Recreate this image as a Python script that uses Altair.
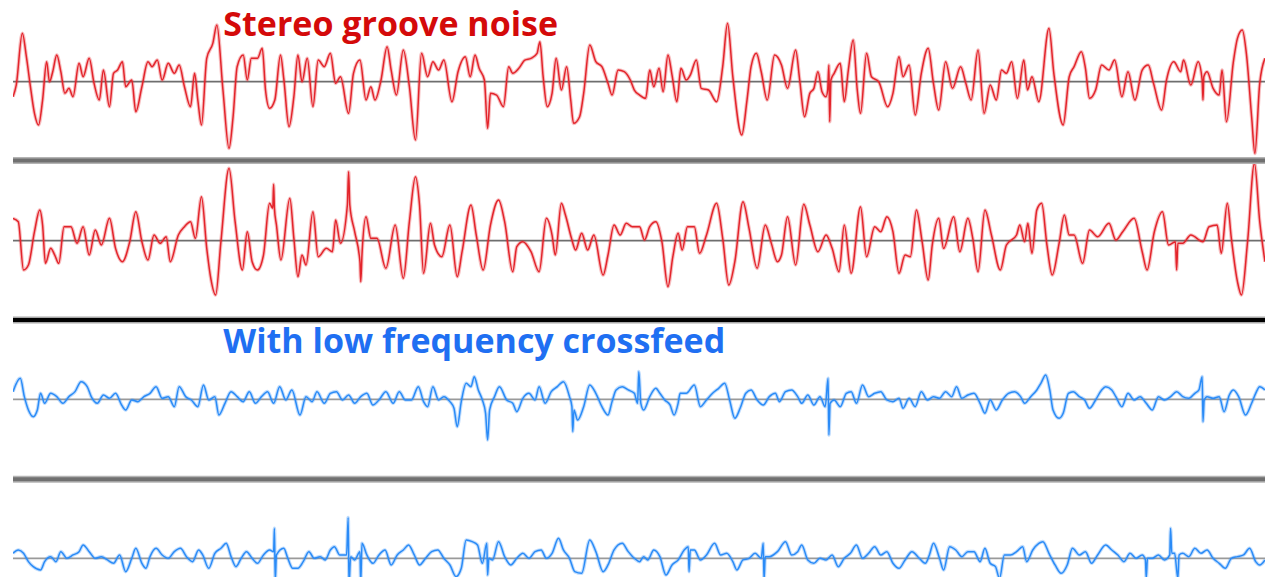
import altair as alt
import pandas as pd

# ---- waveform readings: (time index, amplitude) per track, first and second half ----
# time index: 0..1568 per half; amplitude: 1/3-pixel units above the zero line
TRACK1_A = [(22,-45),(30,-10),(45,145),(55,75),(65,-15),(75,-95),(85,-130),(95,-55),(105,60),(112,0),
            (120,30),(130,80),(140,30),(150,-35),(160,-20),(170,-45),(185,55),(195,15),(210,70),(222,-5),
            (235,-55),(245,35),(260,-75),(270,25),(280,35),(292,60),(300,-15),(315,5),(325,-90),(340,-15),
            (355,60),(365,45),(378,65),(390,5),(405,55),(420,25),(432,50),(445,-15),(460,-75),(470,25),
            (478,-55),(487,-130),(500,70),(515,115),(525,170),(540,-25),(555,-200),(565,-105),(575,45),(590,80),
            (600,5),(610,70),(625,70),(637,100),(645,-25),(655,-80),(668,-55),(682,80),(690,10),(703,-135),
            (715,-45),(725,80),(735,0),(748,70),(762,-75),(775,65),(790,45),(805,85),(818,-5),(830,15),
            (850,-95),(862,25),(878,65),(893,-55),(905,-15),(915,-55),(930,5),(945,105),(955,35),(968,-40),
            (985,95),(1000,-15),(1015,-175),(1030,85),(1045,15),(1058,60),(1072,35),(1085,65),(1105,-60),(1120,30),
            (1138,75),(1150,15),(1162,80),(1172,40),(1185,5),(1193,-140),(1200,-35),(1215,-40),(1232,-75),(1245,45),
            (1255,25),(1270,40),(1285,65),(1300,70),(1315,85),(1322,120),(1330,15),(1340,-75),(1352,-35),(1362,70),
            (1375,-25),(1388,45),(1398,-55),(1405,-125),(1420,-105),(1430,-35),(1445,110),(1460,60),(1475,45),(1490,-5),
            (1500,-40),(1515,35),(1530,30),(1545,5),(1555,-25)]
TRACK1_B = [(0,-40),(15,-50),(25,35),(35,-15),(48,40),(58,-30),(70,80),(80,20),(92,-60),(102,40),
            (115,5),(125,20),(140,65),(152,-20),(170,-25),(190,-60),(205,45),(217,175),(230,15),(252,-160),
            (265,-55),(275,45),(288,85),(300,30),(315,-55),(333,80),(350,50),(365,-20),(385,95),(395,5),
            (407,-105),(420,-35),(430,-20),(440,30),(450,-30),(460,-45),(464,-25),(467,50),(469,-120),(472,5),
            (480,25),(495,55),(505,-60),(515,35),(527,125),(537,-25),(545,-95),(560,85),(572,15),(590,0),
            (612,-75),(625,-35),(640,75),(650,15),(665,50),(680,-100),(695,25),(712,100),(725,-5),(738,-85),
            (755,60),(772,-20),(792,45),(805,-5),(818,-55),(835,95),(850,-95),(865,-10),(880,-55),(893,35),
            (905,25),(918,60),(932,-50),(948,65),(957,-25),(968,15),(985,-60),(1010,160),(1022,25),(1045,-130),
            (1060,15),(1072,45),(1090,90),(1100,40),(1110,-50),(1125,-25),(1140,50),(1158,35),(1172,65),(1190,-45),
            (1205,30),(1222,-55),(1240,35),(1255,50),(1268,-5),(1288,-85),(1300,5),(1318,60),(1335,30),(1342,65),
            (1360,-10),(1378,60),(1388,5),(1390,-55),(1392,15),(1400,30),(1415,-20),(1430,-40),(1437,35),(1448,-120),
            (1465,60),(1475,130),(1487,155),(1497,85),(1510,-105),(1518,-215),(1530,-5),(1543,70)]

TRACK2_A = [(22,67),(35,57),(48,-88),(60,-73),(75,27),(88,92),(95,47),(102,-68),(115,-23),(125,-43),
            (135,-68),(148,42),(165,42),(180,-8),(195,42),(210,-43),(225,32),(240,-13),(260,67),(275,-23),
            (292,-63),(310,-3),(325,87),(340,-3),(355,-58),(370,17),(385,-8),(400,12),(410,-63),(430,17),
            (445,42),(460,57),(472,7),(487,132),(500,-23),(510,-113),(522,-163),(535,-3),(555,217),(570,57),
            (588,-88),(600,27),(612,-63),(625,-88),(640,-43),(655,112),(663,97),(665,169),(667,97),(672,47),
            (683,-58),(705,127),(715,7),(725,-108),(735,-43),(745,-73),(762,87),(775,-48),(795,-23),(810,-33),
            (818,62),(830,-8),(847,107),(850,207),(853,107),(865,27),(878,-63),(880,-123),(883,-43),(893,72),
            (905,7),(920,7),(942,-83),(965,47),(985,-113),(1000,57),(1015,192),(1025,107),(1035,-98),(1052,52),
            (1062,-13),(1080,-48),(1100,47),(1118,-108),(1130,-33),(1152,107),(1165,17),(1182,-88),(1200,47),(1220,122),
            (1235,57),(1255,-93),(1265,-18),(1280,-3),(1300,-33),(1320,-93),(1338,67),(1352,17),(1360,-43),(1375,112),
            (1385,77),(1400,7),(1410,-28),(1425,22),(1440,-28),(1455,17),(1478,-103),(1490,-43),(1505,47),(1520,17),
            (1535,52),(1550,42)]
TRACK2_B = [(0,42),(12,2),(25,42),(40,57),(55,-3),(70,-138),(82,-48),(95,22),(105,-28),(118,42),
            (135,42),(148,-38),(165,17),(190,112),(205,7),(220,-133),(235,-63),(255,117),(270,37),(290,-83),
            (310,47),(325,-8),(340,-63),(350,-43),(365,72),(385,-73),(405,109),(420,47),(440,-33),(460,17),
            (475,-23),(492,-93),(505,47),(522,-98),(545,102),(560,-48),(580,42),(595,27),(610,72),(625,27),
            (640,-98),(655,-43),(668,-48),(683,92),(697,-3),(712,-118),(722,-13),(738,67),(750,-23),(775,72),
            (790,-33),(810,67),(822,7),(835,-93),(852,92),(868,17),(890,-88),(905,-13),(930,17),(938,47),
            (950,-3),(958,52),(968,-38),(980,92),(992,112),(1005,-13),(1018,-103),(1035,-8),(1048,77),(1060,17),
            (1072,17),(1093,-68),(1110,32),(1130,12),(1158,52),(1175,2),(1192,27),(1220,67),(1240,-33),(1252,-88),
            (1270,27),(1290,87),(1305,-13),(1322,-3),(1325,-88),(1328,-8),(1340,-8),(1360,17),(1390,-3),(1405,42),
            (1425,47),(1435,-38),(1450,112),(1460,7),(1475,-123),(1485,-163),(1500,-3),(1517,232),(1530,57),(1543,-63)]

TRACK3_A = [(22,23),(40,63),(50,8),(60,-32),(72,-52),(82,-32),(90,18),(100,-12),(115,18),(130,8),
            (145,-12),(160,8),(175,23),(190,53),(205,38),(215,8),(230,-12),(245,13),(260,3),(275,18),
            (290,-17),(300,-32),(315,-2),(330,-7),(345,8),(360,18),(375,38),(390,3),(405,8),(420,-22),
            (432,38),(448,8),(462,-2),(478,-22),(492,43),(505,-2),(520,8),(530,-47),(545,-12),(560,23),
            (575,8),(590,-7),(605,23),(620,-12),(635,8),(650,23),(665,-12),(680,38),(695,-2),(710,28),
            (730,-47),(745,8),(760,-7),(772,23),(790,-12),(805,18),(820,23),(835,-2),(850,13),(865,-12),
            (880,8),(895,18),(910,-17),(925,-2),(942,23),(960,-12),(975,23),(990,-2),(1005,-2),(1022,38),
            (1035,-7),(1045,-22),(1058,38),(1072,-2),(1085,8),(1100,-7),(1110,-27),(1118,-82),(1128,-7),(1140,48),
            (1152,38),(1160,68),(1170,28),(1180,-2),(1188,-42),(1193,-122),(1198,-32),(1210,8),(1222,38),(1240,-2),
            (1255,-12),(1265,-37),(1280,3),(1295,18),(1310,-2),(1320,38),(1335,-12),(1350,23),(1365,38),(1380,53),
            (1395,8),(1401,-22),(1403,-97),(1406,-32),(1415,-62),(1430,-22),(1445,43),(1460,18),(1475,-22),(1490,-47),
            (1500,-7),(1510,28),(1525,38),(1540,28),(1555,18),(1563,-12),(1566,83)]
TRACK3_B = [(3,-12),(10,-32),(25,8),(40,33),(50,18),(62,-2),(75,-17),(85,-47),(95,-12),(100,18),
            (115,18),(135,43),(150,-22),(165,-2),(180,18),(195,33),(210,48),(222,-2),(235,-57),(248,-27),
            (262,18),(275,28),(290,-2),(305,-17),(320,8),(335,18),(345,-7),(360,23),(375,28),(390,8),
            (400,-12),(415,13),(430,-17),(445,8),(458,-22),(465,63),(467,-107),(470,-12),(480,-2),(495,-22),
            (510,18),(522,23),(535,-12),(550,43),(565,8),(580,18),(595,23),(610,-2),(625,-7),(640,3),
            (650,-27),(665,3),(680,-22),(695,23),(710,-2),(725,8),(740,3),(755,23),(770,8),(782,38),
            (795,3),(810,13),(825,18),(840,-12),(852,-42),(865,-2),(880,-32),(895,-2),(910,18),(925,23),
            (940,8),(950,-12),(965,8),(980,28),(990,48),(1002,73),(1012,28),(1020,-32),(1035,-57),(1045,-42),
            (1058,18),(1070,23),(1085,8),(1098,-2),(1110,-27),(1125,-2),(1140,28),(1150,38),(1165,28),(1175,8),
            (1190,-22),(1205,18),(1220,-2),(1235,8),(1250,-12),(1265,-32),(1280,8),(1295,-2),(1310,8),(1325,23),
            (1340,8),(1355,3),(1370,18),(1380,28),(1388,68),(1390,-67),(1393,-2),(1400,8),(1415,3),(1430,8),
            (1442,-37),(1455,13),(1465,28),(1478,8),(1495,-47),(1510,-12),(1520,18),(1530,38),(1543,28)]

TRACK4_A = [(22,15),(35,25),(48,15),(60,-10),(72,-25),(90,-35),(100,-10),(115,5),(128,-10),(140,20),
            (155,0),(170,10),(185,20),(195,40),(210,20),(225,0),(240,5),(255,-5),(270,-15),(285,10),
            (300,-40),(315,0),(325,30),(340,-15),(350,-30),(360,5),(375,30),(390,10),(405,0),(420,20),
            (435,30),(450,5),(465,-10),(480,25),(490,10),(505,-30),(520,15),(535,30),(548,45),(560,5),
            (572,-25),(585,0),(598,20),(612,0),(625,-15),(640,10),(655,25),(665,20),(667,90),(669,-68),
            (672,10),(690,30),(700,0),(712,-30),(725,-30),(738,-10),(752,20),(765,0),(780,5),(792,-5),
            (805,25),(815,35),(828,10),(845,10),(849,122),(851,-80),(855,5),(865,-5),(878,20),(880,-75),
            (883,45),(895,10),(910,-15),(925,10),(940,25),(955,-20),(970,10),(985,25),(998,40),(1012,10),
            (1025,-20),(1040,0),(1055,20),(1070,25),(1085,0),(1100,-20),(1115,-55),(1128,-30),(1140,55),(1155,50),
            (1168,40),(1180,-15),(1191,45),(1193,-50),(1196,0),(1205,-5),(1220,50),(1235,5),(1250,-20),(1265,0),
            (1280,15),(1295,0),(1310,20),(1325,25),(1338,0),(1352,15),(1368,60),(1380,25),(1395,0),(1408,-40),
            (1425,-45),(1445,55),(1460,20),(1478,-40),(1490,-20),(1505,25),(1525,45),(1540,20),(1555,0)]
TRACK4_B = [(0,-10),(10,5),(20,-5),(35,25),(50,5),(65,-50),(80,-20),(95,-5),(110,25),(120,35),
            (122,-40),(125,25),(135,25),(150,-5),(165,10),(185,45),(200,10),(215,15),(230,-10),(240,-35),
            (255,-5),(270,0),(285,15),(300,0),(305,45),(307,-65),(310,5),(320,5),(340,20),(360,50),
            (375,10),(390,20),(400,40),(415,-5),(430,-15),(445,0),(460,-5),(475,10),(490,-25),(505,0),
            (520,15),(535,40),(550,0),(565,15),(580,35),(595,10),(610,20),(625,-15),(640,-30),(655,-5),
            (672,20),(690,0),(705,-15),(715,10),(725,45),(740,0),(750,-35),(765,35),(780,25),(795,5),
            (810,20),(825,20),(840,-10),(852,30),(865,-15),(878,-25),(888,-60),(900,10),(915,10),(930,20),
            (945,35),(955,-10),(970,25),(985,45),(995,50),(1010,15),(1025,-20),(1040,-45),(1055,-20),(1068,30),
            (1085,10),(1100,20),(1115,-15),(1130,10),(1150,40),(1165,25),(1180,10),(1195,-10),(1210,15),(1225,0),
            (1240,10),(1248,-5),(1250,-60),(1253,0),(1265,0),(1280,10),(1295,-5),(1308,10),(1310,90),(1313,15),
            (1320,15),(1328,-60),(1331,10),(1340,15),(1355,5),(1370,30),(1385,15),(1400,25),(1415,0),(1430,-15),
            (1445,-30),(1460,0),(1475,5),(1490,10),(1505,30),(1520,-10),(1530,-20),(1543,-5)]

HALF = 1568
TRACK_GROUPS = ["Stereo groove noise", "Stereo groove noise",
                "With low frequency crossfeed", "With low frequency crossfeed"]
LANES = [81.7, 240.7, 399.3, 558.3]          # zero line of each track
DIVIDERS = [160.5, 320.0, 479.3]             # track separators
DIVIDER_KIND = ["gray", "black", "gray"]
TITLES = ["Stereo groove noise", "With low frequency crossfeed"]
TITLE_T = [541, 541]
TITLE_Y = [36.0, 353.0]

RED, BLUE = "#e3242b", "#2a8bf7"
TITLE_RED, TITLE_BLUE = "#d40a0a", "#1f6ff2"

# ---- build tables ----
halves = [(TRACK1_A, TRACK1_B), (TRACK2_A, TRACK2_B), (TRACK3_A, TRACK3_B), (TRACK4_A, TRACK4_B)]
rows = []
for k, (a, b) in enumerate(halves):
    pts = [(t, v) for t, v in a] + [(HALF + t, v) for t, v in b]
    for i, (t, v) in enumerate(pts):
        rows.append({"track": k, "i": i, "t": t, "amp": v, "lane": LANES[k], "group": TRACK_GROUPS[k]})
wave = pd.DataFrame(rows)
lanes = pd.DataFrame({"lane": LANES, "group": TRACK_GROUPS})
divs = pd.DataFrame({"y": DIVIDERS, "kind": DIVIDER_KIND})
titles = pd.DataFrame({"text": TITLES, "t": TITLE_T, "y": TITLE_Y})

xs = alt.Scale(domain=[22, 3111])
ys = alt.Scale(domain=[8, 577], reverse=True)
gcol = alt.Scale(domain=TITLES, range=[RED, BLUE])
tcol = alt.Scale(domain=TITLES, range=[TITLE_RED, TITLE_BLUE])
lcol = alt.Scale(domain=TITLES, range=["#6e6e6e", "#9a9a9a"])

zero_lines = alt.Chart(lanes).mark_rule(strokeWidth=1.8).encode(
    y=alt.Y("lane:Q", scale=ys, axis=None),
    color=alt.Color("group:N", scale=lcol, legend=None),
)

base_wave = alt.Chart(wave).transform_calculate(yy="datum.lane - datum.amp / 3")
wave_enc = dict(
    x=alt.X("t:Q", scale=xs, axis=None),
    y=alt.Y("yy:Q", scale=ys, axis=None),
    detail="track:N",
    order="i:Q",
    color=alt.Color("group:N", scale=gcol, legend=None),
)
halo = base_wave.mark_line(strokeWidth=3.6, opacity=0.3, clip=True,
                           interpolate="monotone", strokeJoin="round").encode(**wave_enc)
waves = base_wave.mark_line(strokeWidth=1.5, clip=True,
                            interpolate="monotone", strokeJoin="round").encode(**wave_enc)

div_outer = alt.Chart(divs).mark_rule(strokeWidth=7).encode(
    y=alt.Y("y:Q", scale=ys, axis=None),
    color=alt.Color("kind:N", scale=alt.Scale(domain=["gray", "black"], range=["#b4b4b4", "#a8a8a8"]), legend=None),
)
div_inner = alt.Chart(divs).mark_rule(strokeWidth=4).encode(
    y=alt.Y("y:Q", scale=ys, axis=None),
    color=alt.Color("kind:N", scale=alt.Scale(domain=["gray", "black"], range=["#707070", "#000000"]), legend=None),
)

title_text = alt.Chart(titles).mark_text(
    align="left", baseline="alphabetic", font="Open Sans", fontWeight="bold", fontSize=34
).encode(
    x=alt.X("t:Q", scale=xs, axis=None),
    y=alt.Y("y:Q", scale=ys, axis=None),
    text="text:N",
    color=alt.Color("text:N", scale=tcol, legend=None),
)

chart = alt.layer(zero_lines, halo, waves, div_outer, div_inner, title_text).resolve_scale(
    color="independent"
).properties(
    width=1263, height=569,
    autosize=alt.AutoSizeParams(type="fit", contains="padding"),
    padding={"left": 1, "right": 2, "top": 0, "bottom": 0},
    background="white",
).configure_view(stroke=None)

chart.save("out.html", embed_options={"renderer": "svg", "actions": False})
